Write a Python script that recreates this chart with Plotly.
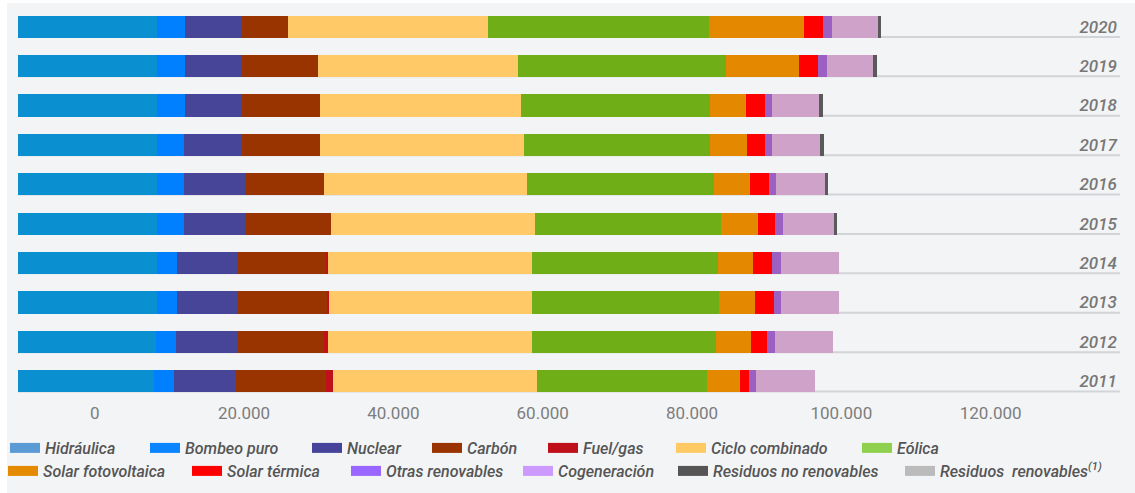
import plotly.graph_objects as go

# ---------------- data (MW) ----------------
YEARS = ["2011", "2012", "2013", "2014", "2015", "2016", "2017", "2018", "2019", "2020"]

hidraulica   = [18220, 18470, 18570, 18570, 18570, 18570, 18570, 18620, 18620, 18620]
bombeo_puro  = [2680, 2710, 2680, 2680, 3680, 3680, 3680, 3710, 3750, 3750]
nuclear      = [8310, 8250, 8190, 8190, 8280, 8280, 7760, 7680, 7660, 7690]
carbon       = [12060, 11490, 11960, 11820, 11440, 10400, 10380, 10500, 10150, 6070]
fuel_gas     = [940, 580, 240, 200, 0, 0, 0, 0, 0, 0]
ciclo_comb   = [27250, 27340, 27270, 27350, 27270, 27310, 27330, 26830, 26850, 26830]
eolica       = [22850, 24690, 24960, 24960, 24900, 24980, 25010, 25280, 27810, 29570]
solar_fv     = [4420, 4680, 4800, 4720, 4920, 4770, 4860, 4860, 9740, 12770]
solar_term   = [1130, 2160, 2570, 2560, 2360, 2550, 2450, 2550, 2590, 2460]
otras_ren    = [940, 1020, 920, 1090, 990, 940, 990, 900, 1130, 1210]
cogeneracion = [7940, 7820, 7810, 7760, 6830, 6630, 6430, 6380, 6240, 6160]
residuos_nr  = [0, 0, 0, 0, 480, 440, 440, 460, 540, 440]
residuos_r   = [0, 0, 0, 0, 0, 0, 0, 0, 0, 0]

SERIES_NAMES = ["Hidráulica", "Bombeo puro", "Nuclear", "Carbón", "Fuel/gas",
                "Ciclo combinado", "Eólica", "Solar fotovoltaica", "Solar térmica",
                "Otras renovables", "Cogeneración", "Residuos no renovables",
                "Residuos  renovables<sup>(1)</sup>"]
SERIES_VALUES = [hidraulica, bombeo_puro, nuclear, carbon, fuel_gas, ciclo_comb, eolica,
                 solar_fv, solar_term, otras_ren, cogeneracion, residuos_nr, residuos_r]

TICK_VALUES = [0, 20000, 40000, 60000, 80000, 100000, 120000]
TICK_LABELS = ["0", "20.000", "40.000", "60.000", "80.000", "100.000", "120.000"]

# ---------------- style ----------------
BAR_COLORS = ["#0a8fd0", "#0080ff", "#474597", "#993300", "#c0111b", "#fec966", "#70ae17",
              "#e48800", "#ff0000", "#9c5fc2", "#cfa2c9", "#5a5a5a", "#bdbdbd"]
LEGEND_COLORS = ["#5b9bd5", "#0a84ff", "#46449a", "#993300", "#bf0f1a", "#ffca64", "#8fd14f",
                 "#e38a00", "#ff0000", "#9966ff", "#cc99ff", "#555555", "#bbbbbb"]
# In the source chart the axis labels are shifted relative to the bar origin
AXIS_OFFSET = 10275
X_MAX = 147600
BAR_WIDTH = 0.56
FONT = "Roboto, 'Open Sans', sans-serif"

W, H = 1135, 493
ML, MR, MT, MB = 18, 15, 7, 92
PW, PH = W - ML - MR, H - MT - MB

# legend text start pixels (row, x)
LEGEND_TEXT_X = [45, 185, 347, 467, 583, 711, 897, 43, 227, 386, 558, 713, 940]
LEGEND_ROW_Y = [448, 471]

ypos = list(range(len(YEARS)))

fig = go.Figure()
for name, vals, col in zip(SERIES_NAMES, SERIES_VALUES, BAR_COLORS):
    fig.add_trace(go.Bar(
        y=ypos, x=vals, orientation="h", name=name,
        marker=dict(color=col, line=dict(width=0)),
        width=BAR_WIDTH, showlegend=False,
        hovertemplate="%{x:,.0f} MW<extra>" + name + "</extra>",
    ))

legend_layout = {}
for k, (name, col) in enumerate(zip(SERIES_NAMES, LEGEND_COLORS)):
    key = "legend" if k == 0 else f"legend{k + 1}"
    fig.add_trace(go.Scatter(
        x=[None], y=[None], mode="lines", name=name,
        line=dict(color=col, width=10), legend=key, showlegend=True,
        hoverinfo="skip",
    ))
    row = 0 if k < 7 else 1
    left_px = LEGEND_TEXT_X[k] - 40
    legend_layout[key] = dict(
        xref="container", yref="container",
        x=left_px / W, xanchor="left",
        y=1 - LEGEND_ROW_Y[row] / H, yanchor="middle",
        orientation="h", bgcolor="rgba(0,0,0,0)", borderwidth=0,
        font=dict(family=FONT, size=16, color="#555555", style="italic", weight=500),
        itemclick=False, itemdoubleclick=False,
    )

shapes = [
    # grey panel behind everything
    dict(type="rect", xref="paper", yref="paper", layer="below",
         x0=(7 - ML) / PW, x1=(W - ML) / PW, y0=(MT + PH - H) / PH, y1=(MT + PH - 3) / PH,
         fillcolor="#f3f4f6", line=dict(width=0)),
]
for i in ypos:
    shapes.append(dict(type="line", xref="x", yref="y", layer="below",
                       x0=0, x1=X_MAX, y0=i - BAR_WIDTH / 2 + 0.02, y1=i - BAR_WIDTH / 2 + 0.02,
                       line=dict(color="#d2d4d7", width=2)))

fig.update_layout(
    width=W, height=H,
    margin=dict(l=ML, r=MR, t=MT, b=MB, autoexpand=False),
    paper_bgcolor="#ffffff", plot_bgcolor="rgba(0,0,0,0)",
    barmode="stack",
    shapes=shapes,
    font=dict(family=FONT),
    xaxis=dict(range=[0, X_MAX], showgrid=False, zeroline=False, showline=False,
               tickvals=[AXIS_OFFSET + v for v in TICK_VALUES], ticktext=TICK_LABELS,
               tickfont=dict(family=FONT, size=17, color="#7d7d7d"), ticks="", fixedrange=True),
    yaxis=dict(range=[-0.5, len(YEARS) - 0.5], side="right", ticklabelposition="inside",
               tickvals=ypos, ticktext=YEARS, showgrid=False, zeroline=False, showline=False,
               ticks="", tickfont=dict(family=FONT, size=17, color="#777777", style="italic",
                                       weight=500), fixedrange=True),
    **legend_layout,
)

fig.write_html("out.html")
